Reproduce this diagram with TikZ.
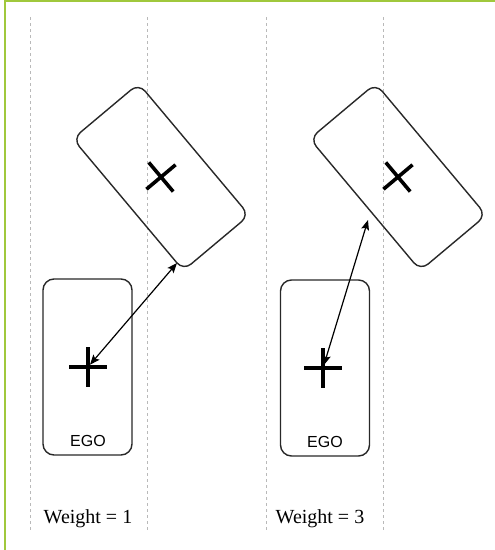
\documentclass[tikz,border=0pt]{standalone}
\usepackage{fontspec}
\setmainfont{Liberation Serif}
\newfontfamily\egofont{Liberation Sans}
\usetikzlibrary{arrows.meta,calc}
\definecolor{framegreen}{RGB}{160,200,60}
\definecolor{boxline}{RGB}{40,40,40}
\tikzset{
  lane/.style={draw=gray!55, line width=1pt, dash pattern=on 3pt off 3pt},
  carbox/.style={draw=boxline, line width=1.4pt, rounded corners=11pt, inner sep=0pt, minimum width=89pt, minimum height=176pt},
  objbox/.style={draw=boxline, line width=1.4pt, rounded corners=10pt, inner sep=0pt, minimum width=86pt, minimum height=172pt, rotate=40},
  crossline/.style={line width=3.6pt, black},
  dist/.style={line width=1.2pt, {Stealth[length=10pt,width=8pt,inset=2pt]}-{Stealth[length=10pt,width=8pt,inset=2pt]}},
  egolabel/.style={font=\egofont\fontsize{16}{18}\selectfont, inner sep=0pt},
  weightlabel/.style={font=\fontsize{20}{22}\selectfont, inner sep=0pt, anchor=base}
}
\begin{document}
\begin{tikzpicture}[x=1pt,y=-1pt]
\useasboundingbox (0,0) rectangle (495,550);
\fill[white] (0,0) rectangle (495,550);
% frame
\draw[framegreen, line width=2.5pt] (5,550) -- (5,1.2) -- (495,1.2);
% lane lines
\foreach \xx in {30,147,266,383}
  \draw[lane] (\xx,17) -- (\xx,532);
% left scenario
\node[carbox] (ego1) at (87.5,367) {};
\node[egolabel] (egot1) at (88,441) {EGO};
\coordinate (c1) at (88,367);
\draw[crossline] ($(c1)+(-19,0)$) -- ($(c1)+(19,0)$);
\draw[crossline] ($(c1)+(0,-20)$) -- ($(c1)+(0,20)$);
\node[objbox] (obj1) at (161,177) {};
\coordinate (o1) at (161,177);
\draw[crossline, shift={(o1)}, rotate=40] (-19,0) -- (19,0);
\draw[crossline, shift={(o1)}, rotate=40] (0,-19) -- (0,19);
\coordinate (t1) at (177,263);
\draw[dist, shorten <=3pt] (c1) -- (t1);
\node[weightlabel] (w1) at (88,523) {Weight = 1};
% right scenario
\node[carbox] (ego2) at (325,368) {};
\node[egolabel] (egot2) at (325,442) {EGO};
\coordinate (c2) at (323,368);
\draw[crossline] ($(c2)+(-19,0)$) -- ($(c2)+(19,0)$);
\draw[crossline] ($(c2)+(0,-20)$) -- ($(c2)+(0,20)$);
\node[objbox] (obj2) at (398,177) {};
\coordinate (o2) at (398,177);
\draw[crossline, shift={(o2)}, rotate=40] (-19,0) -- (19,0);
\draw[crossline, shift={(o2)}, rotate=40] (0,-19) -- (0,19);
\coordinate (t2) at (368,220);
\draw[dist, shorten <=3pt] (c2) -- (t2);
\node[weightlabel] (w2) at (320,523) {Weight = 3};
\end{tikzpicture}
\end{document}
